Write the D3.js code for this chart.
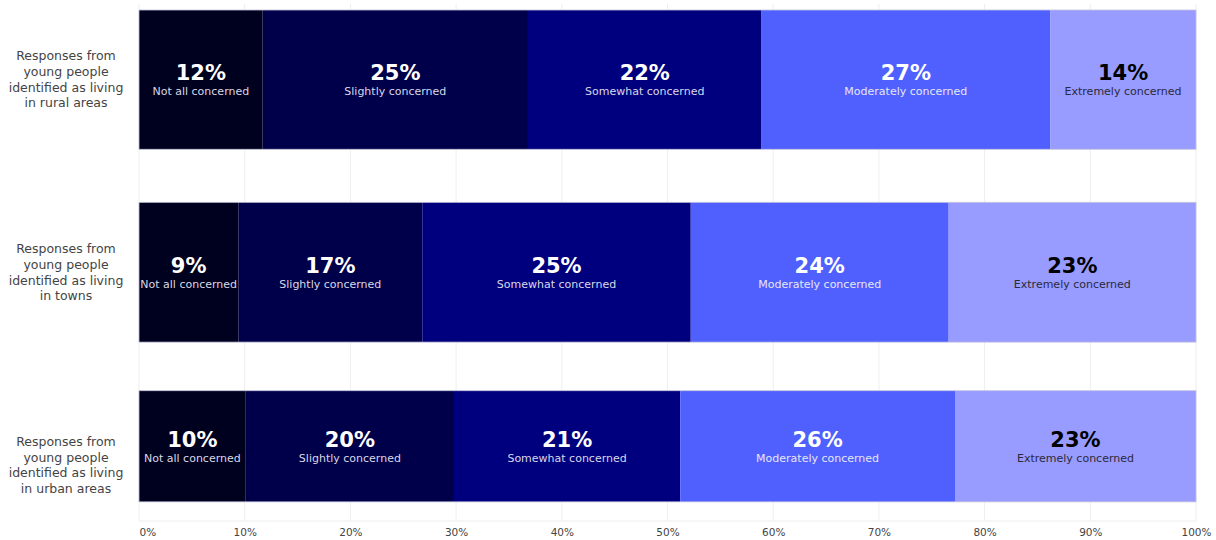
<!DOCTYPE html>
<html>
<head>
<meta charset="utf-8">
<script src="https://cdn.jsdelivr.net/npm/d3@7"></script>
<style>
  body { margin: 0; background: #fff; }
  svg { display: block; font-family: "DejaVu Sans", Verdana, sans-serif; }
</style>
</head>
<body>
<div id="chart"></div>
<script>
// rows (top to bottom)
var groups = [
  "Responses from young people identified as living in rural areas",
  "Responses from young people identified as living in towns",
  "Responses from young people identified as living in urban areas"
];
var groupLines = [
  ["Responses from", "young people", "identified as living", "in rural areas"],
  ["Responses from", "young people", "identified as living", "in towns"],
  ["Responses from", "young people", "identified as living", "in urban areas"]
];
var categories = ["Not all concerned", "Slightly concerned", "Somewhat concerned", "Moderately concerned", "Extremely concerned"];

// share of responses (%) per row, in category order
var rural = [11.7, 25.1, 22.1, 27.3, 13.8];
var towns = [9.4, 17.4, 25.4, 24.4, 23.4];
var urban = [10.1, 19.7, 21.4, 26.0, 22.8];
var series = [rural, towns, urban];

var xTicks = [0, 10, 20, 30, 40, 50, 60, 70, 80, 90, 100];

// styling
var colors = ["#00001f", "#00004a", "#00007f", "#5060ff", "#989bff"];
var pctColors = ["#ffffff", "#ffffff", "#ffffff", "#ffffff", "#000000"];
var labColors = ["#d8d8e6", "#d8d8e6", "#d8d8e6", "#e6e6f4", "#2a2a3a"];

function drawChart() {
  var svgWidth = 1216, svgHeight = 540;
  var margin = { top: 4, right: 20, bottom: 19, left: 139 };
  var width = svgWidth - margin.left - margin.right;
  var height = svgHeight - margin.top - margin.bottom;

  var svg = d3.select("#chart").append("svg")
    .attr("width", svgWidth).attr("height", svgHeight);

  var g = svg.append("g")
    .attr("transform", `translate(${margin.left}, ${margin.top})`);

  var x = d3.scaleLinear().domain([0, 100]).range([0, width]);

  // each row is its own little subplot, stacked top to bottom (fractions of plot height)
  var rowDomains = [[0.0116, 0.281], [0.3836, 0.654], [0.748, 0.963]];
  // where the row titles sit (the last one sits lower than its bar)
  var titleCenters = [0.146, 0.519, 0.892];
  var y = d3.scaleLinear().domain([0, 1]).range([0, height]);

  // grid
  g.selectAll("line.grid").data(xTicks).enter().append("line")
    .attr("class", "grid")
    .attr("x1", d => x(d)).attr("x2", d => x(d))
    .attr("y1", 0).attr("y2", height)
    .attr("stroke", "#eeeeee").attr("stroke-width", 1);
  g.append("line")
    .attr("x1", 0).attr("x2", width).attr("y1", height).attr("y2", height)
    .attr("stroke", "#eeeeee");

  // x axis labels
  var xAxis = g.append("g")
    .attr("transform", `translate(0, ${height})`)
    .call(d3.axisBottom(x).tickValues(xTicks).tickSize(0).tickPadding(8).tickFormat(d => d + "%"));
  xAxis.select(".domain").remove();
  xAxis.selectAll("text")
    .attr("font-family", "DejaVu Sans, Verdana, sans-serif")
    .attr("font-size", "10.5px").attr("fill", "#444");
  xAxis.selectAll(".tick").filter(d => d === 0).select("text").attr("text-anchor", "start");

  series.forEach(function(vals, i) {
    var acc = 0;
    var segs = vals.map(function(v, j) {
      var s = { start: acc, value: v, j: j };
      acc += v;
      return s;
    });
    var y0 = y(rowDomains[i][0]), y1 = y(rowDomains[i][1]);
    var cy = (y0 + y1) / 2;

    var row = g.append("g").attr("class", "row");

    row.selectAll("rect").data(segs).enter().append("rect")
      .attr("x", d => x(d.start))
      .attr("width", d => x(d.start + d.value) - x(d.start))
      .attr("y", y0).attr("height", y1 - y0)
      .attr("fill", d => colors[d.j]);

    row.append("rect")
      .attr("x", x(0)).attr("width", x(100) - x(0))
      .attr("y", y0).attr("height", y1 - y0)
      .attr("fill", "none").attr("stroke", "#c4c4dc").attr("stroke-width", 0.8);

    row.selectAll("text.pct").data(segs).enter().append("text")
      .attr("class", "pct")
      .attr("x", d => x(d.start + d.value / 2))
      .attr("y", cy - 7)
      .attr("dy", "0.35em")
      .attr("text-anchor", "middle")
      .attr("font-size", "21px").attr("font-weight", "bold")
      .attr("fill", d => pctColors[d.j])
      .text(d => Math.round(d.value) + "%");

    row.selectAll("text.lab").data(segs).enter().append("text")
      .attr("class", "lab")
      .attr("x", d => x(d.start + d.value / 2))
      .attr("y", cy + 12)
      .attr("dy", "0.35em")
      .attr("text-anchor", "middle")
      .attr("font-size", "11px")
      .attr("fill", d => labColors[d.j])
      .text(d => categories[d.j]);

    // row title on the left
    var lines = groupLines[i];
    var ty = margin.top + y(titleCenters[i]);
    var lab = svg.append("text")
      .attr("text-anchor", "middle")
      .attr("font-size", "12.5px").attr("fill", "#444")
      .attr("x", 66)
      .attr("y", ty - (lines.length - 1) * 15.7 / 2);
    lab.append("title").text(groups[i]);
    lines.forEach(function(l, k) {
      lab.append("tspan").attr("x", 66).attr("dy", k === 0 ? "0.35em" : "15.7px").text(l);
    });
  });
}

document.addEventListener('DOMContentLoaded', function(){
  drawChart();
});
</script>
</body>
</html>
